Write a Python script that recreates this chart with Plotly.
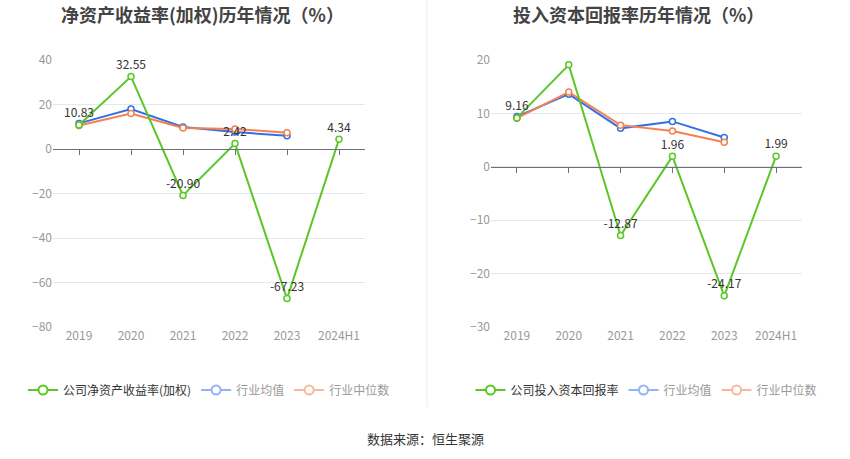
import plotly.graph_objects as go

years = ["2019", "2020", "2021", "2022", "2023", "2024H1"]

# 净资产收益率(加权)
roe_company = [10.83, 32.55, -20.90, 2.42, -67.23, 4.34]
roe_avg = [11.5, 18.0, 9.9, 7.6, 6.0, None]
roe_median = [10.6, 15.9, 9.4, 9.0, 7.3, None]

# 投入资本回报率
roic_company = [9.16, 19.09, -12.87, 1.96, -24.17, 1.99]
roic_avg = [9.4, 13.6, 7.2, 8.5, 5.5, None]
roic_median = [9.1, 14.0, 7.8, 6.7, 4.6, None]

GREEN = "#5ac726"
BLUE = "#3470e4"
ORANGE = "#f4814f"
GREEN_L = "#5ac726"
BLUE_L = "#93b4f2"
ORANGE_L = "#f8b89d"

FONT = "Noto Sans CJK SC"
W, H = 850, 459

def py(px_y):
    return 1 - px_y / H

def px_x(px):
    return px / W

y_bot, y_top = py(327), py(60)
left_dom = [px_x(53), px_x(365)]
right_dom = [px_x(491), px_x(802)]

fig = go.Figure()

def add_series(xa, ya, comp, avg, med, comp_name, legend):
    fig.add_trace(go.Scatter(
        x=years, y=avg, mode="lines+markers", xaxis=xa, yaxis=ya,
        line=dict(color=BLUE, width=2),
        marker=dict(symbol="circle", size=6, color="white", line=dict(color=BLUE, width=1.5)),
        showlegend=False, hoverinfo="skip"))
    fig.add_trace(go.Scatter(
        x=years, y=med, mode="lines+markers", xaxis=xa, yaxis=ya,
        line=dict(color=ORANGE, width=2),
        marker=dict(symbol="circle", size=6, color="white", line=dict(color=ORANGE, width=1.5)),
        showlegend=False, hoverinfo="skip"))
    fig.add_trace(go.Scatter(
        x=years, y=comp, mode="lines+markers+text", xaxis=xa, yaxis=ya,
        line=dict(color=GREEN, width=2),
        marker=dict(symbol="circle", size=6, color="white", line=dict(color=GREEN, width=1.5)),
        text=["%.2f" % v for v in comp], textposition="top center",
        textfont=dict(size=12, color="#333", family=FONT),
        showlegend=False, hoverinfo="skip"))
    # legend entries
    for name, col, tcol in [(comp_name, GREEN_L, "#333"), ("行业均值", BLUE_L, "#999"),
                            ("行业中位数", ORANGE_L, "#999")]:
        fig.add_trace(go.Scatter(
            x=[None], y=[None], mode="lines+markers", xaxis=xa, yaxis=ya,
            line=dict(color=col, width=2),
            marker=dict(symbol="circle", size=9, color="white", line=dict(color=col, width=2)),
            name='<span style="color:%s">%s</span>' % (tcol, name), legend=legend))

add_series("x", "y", roe_company, roe_avg, roe_median, "公司净资产收益率(加权)", "legend")
add_series("x2", "y2", roic_company, roic_avg, roic_median, "公司投入资本回报率", "legend2")

xcommon = dict(type="category", range=[-0.5, 5.5], showgrid=False, showline=False,
               ticks="", zeroline=False, automargin=False,
               tickfont=dict(size=12, color="#999", family=FONT))
ycommon = dict(showgrid=True, gridcolor="#e3e7f2", gridwidth=1, zeroline=False,
               showline=False, ticks="", automargin=False,
               tickfont=dict(size=12, color="#999", family=FONT),
               domain=[y_bot, y_top])

def zero_pos(lo, hi):
    return y_bot + (0 - lo) / (hi - lo) * (y_top - y_bot)

zaxis = dict(type="linear", range=[-0.5, 5.5], anchor="free", showline=True,
             linecolor="#6e7079", linewidth=1, ticks="outside", ticklen=5,
             tickcolor="#6e7079", tickvals=[0, 1, 2, 3, 4, 5], showticklabels=False,
             showgrid=False, zeroline=False, automargin=False)

fig.update_layout(
    template="none",
    width=W, height=H,
    margin=dict(l=0, r=0, t=0, b=0, pad=0, autoexpand=False),
    paper_bgcolor="white", plot_bgcolor="white",
    font=dict(family=FONT),
    xaxis=dict(xcommon, domain=left_dom, anchor="y"),
    yaxis=dict(ycommon, range=[-80, 40], dtick=20, anchor="x"),
    xaxis2=dict(xcommon, domain=right_dom, anchor="y2"),
    yaxis2=dict(ycommon, range=[-30, 20], dtick=10, anchor="x2"),
    # zero axis lines with category ticks
    xaxis3=dict(zaxis, domain=left_dom, overlaying="x", position=zero_pos(-80, 40)),
    xaxis4=dict(zaxis, domain=right_dom, overlaying="x2", position=zero_pos(-30, 20)),
    legend=dict(orientation="h", x=(left_dom[0] + left_dom[1]) / 2, xanchor="center",
                y=py(390), yanchor="middle", font=dict(size=12, family=FONT),
                bgcolor="rgba(0,0,0,0)", itemclick=False, itemwidth=30),
    legend2=dict(orientation="h", x=(right_dom[0] + right_dom[1]) / 2, xanchor="center",
                 y=py(390), yanchor="middle", font=dict(size=12, family=FONT),
                 bgcolor="rgba(0,0,0,0)", itemclick=False, itemwidth=30),
    showlegend=True,
)

# dummy traces so the zero-line axes are drawn
fig.add_trace(go.Scatter(x=[None], y=[None], xaxis="x3", yaxis="y", showlegend=False))
fig.add_trace(go.Scatter(x=[None], y=[None], xaxis="x4", yaxis="y2", showlegend=False))

fig.add_annotation(text="<b>净资产收益率(加权)历年情况（%）</b>", x=px_x(202), y=py(14),
                   xref="paper", yref="paper", showarrow=False, xanchor="center",
                   yanchor="middle", font=dict(size=18, color="#444", family=FONT))
fig.add_annotation(text="<b>投入资本回报率历年情况（%）</b>", x=px_x(638), y=py(14),
                   xref="paper", yref="paper", showarrow=False, xanchor="center",
                   yanchor="middle", font=dict(size=18, color="#444", family=FONT))
fig.add_annotation(text="数据来源：恒生聚源", x=0.5, y=py(438), xref="paper", yref="paper",
                   showarrow=False, xanchor="center", yanchor="middle",
                   font=dict(size=13, color="#333", family=FONT))

fig.add_shape(type="line", xref="paper", yref="paper", x0=px_x(427), x1=px_x(427),
              y0=1, y1=py(407), line=dict(color="#eeeeee", width=1))

# page body has a default margin; drop it so the figure sits at the window corner
fig.write_html("out.html", config={"displayModeBar": False},
               post_script="document.body.style.margin='0';")
